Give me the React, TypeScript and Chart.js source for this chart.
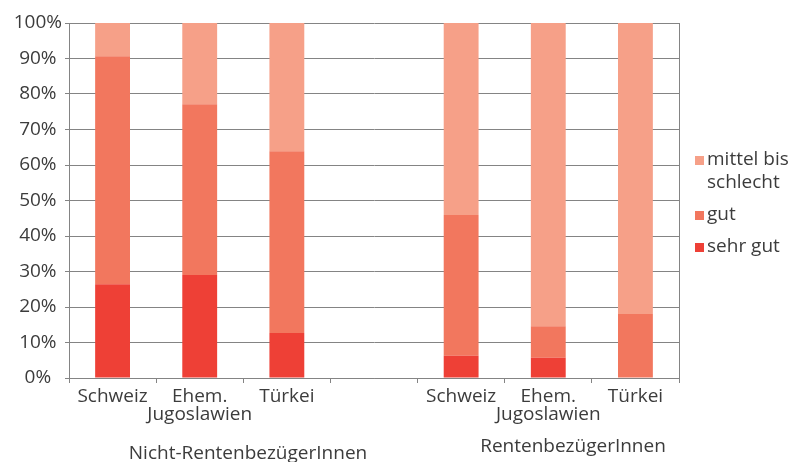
import React, { useEffect, useRef } from "react";
import { Chart, registerables } from "chart.js";
Chart.register(...registerables);

const categories = ["Schweiz", "Ehem. Jugoslawien", "Türkei", "", "Schweiz", "Ehem. Jugoslawien", "Türkei"];
const groupLabels = ["Nicht-RentenbezügerInnen", "RentenbezügerInnen"];
const seriesNames = ["sehr gut", "gut", "mittel bis schlecht"];
const sehrGut = [26.4, 29.0, 12.7, null, 6.3, 5.7, 0];
const gut = [64.2, 48.1, 51.2, null, 39.6, 8.9, 18.0];
const mittelBisSchlecht = [9.4, 22.9, 36.1, null, 54.1, 85.4, 82.0];
const yMin = 0;
const yMax = 100;
const yStep = 10;

const colors = ["#EE4036", "#F2775E", "#F6A088"];
const FONT = "'Open Sans', 'Noto Sans', sans-serif";
const TEXT = "#3c3c3c";
const GRID = "#848484";

const overlayPlugin = {
  id: "overlay",
  afterDraw(chart: any) {
    const ctx = chart.ctx;
    const area = chart.chartArea;
    ctx.save();
    // right border
    ctx.strokeStyle = GRID;
    ctx.lineWidth = 1;
    ctx.beginPath();
    const rx = Math.round(area.right) + 0.5;
    ctx.moveTo(rx, area.top);
    ctx.lineTo(rx, area.bottom);
    ctx.stroke();

    // group labels
    ctx.fillStyle = TEXT;
    ctx.font = `19px ${FONT}`;
    ctx.textAlign = "center";
    ctx.textBaseline = "alphabetic";
    ctx.fillText(groupLabels[0], area.left + 179, 459);
    ctx.fillText(groupLabels[1], area.left + 504, 452);

    // legend (reversed order)
    const items = chart.data.datasets
      .map((d: any, i: number) => ({ label: d.label, color: colors[i] }))
      .reverse();
    const lx = area.right + 16;
    const tx = lx + 12;
    const maxW = 92;
    let y = 160;
    ctx.textAlign = "left";
    ctx.textBaseline = "middle";
    for (const it of items) {
      const words = it.label.split(" ");
      const lines: string[] = [];
      let cur = "";
      for (const w of words) {
        const test = cur ? cur + " " + w : w;
        if (ctx.measureText(test).width > maxW && cur) {
          lines.push(cur);
          cur = w;
        } else cur = test;
      }
      if (cur) lines.push(cur);
      ctx.fillStyle = it.color;
      ctx.fillRect(lx, y - 4, 9, 9);
      ctx.fillStyle = TEXT;
      lines.forEach((l, i) => ctx.fillText(l, tx, y + i * 23));
      y += lines.length * 23 + 9;
    }
    ctx.restore();
  },
};

export default function App() {
  const ref = useRef<HTMLCanvasElement>(null);
  useEffect(() => {
    if (!ref.current) return;
    const chart = new Chart(ref.current, {
      type: "bar",
      data: {
        labels: categories,
        datasets: [
          { label: seriesNames[0], data: sehrGut, backgroundColor: colors[0] },
          { label: seriesNames[1], data: gut, backgroundColor: colors[1] },
          { label: seriesNames[2], data: mittelBisSchlecht, backgroundColor: colors[2] },
        ],
      },
      options: {
        animation: false,
        responsive: true,
        maintainAspectRatio: false,
        layout: { padding: { left: 0, right: 113, top: 23, bottom: 0 } },
        datasets: { bar: { categoryPercentage: 1, barPercentage: 0.4 } } as any,
        plugins: { legend: { display: false }, tooltip: { enabled: false } },
        scales: {
          x: {
            stacked: true,
            grid: { display: true, drawOnChartArea: false, offset: true, color: GRID, tickLength: 5 },
            border: { color: GRID },
            ticks: {
              color: TEXT,
              font: { family: FONT, size: 19, lineHeight: 0.95 },
              padding: 5,
              maxRotation: 0,
              autoSkip: false,
              callback: (_v: any, i: number) => {
                const l = categories[i];
                return l.includes(". ") ? l.split(" ") : l;
              },
            },
            afterFit: (s: any) => {
              s.height = 84;
            },
          },
          y: {
            stacked: true,
            min: yMin,
            max: yMax,
            grid: { color: GRID, tickLength: 4 },
            border: { color: GRID },
            ticks: {
              stepSize: yStep,
              color: TEXT,
              font: { family: FONT, size: 19 },
              padding: 3,
              crossAlign: "center",
              callback: (v: any) => v + "%",
            },
            afterFit: (s: any) => {
              s.width = 69;
            },
          },
        },
      },
      plugins: [overlayPlugin],
    });
    return () => chart.destroy();
  }, []);
  return (
    <div style={{ position: "fixed", left: 0, top: 0, width: 792, height: 462, background: "#fff" }}>
      <canvas ref={ref} />
    </div>
  );
}
